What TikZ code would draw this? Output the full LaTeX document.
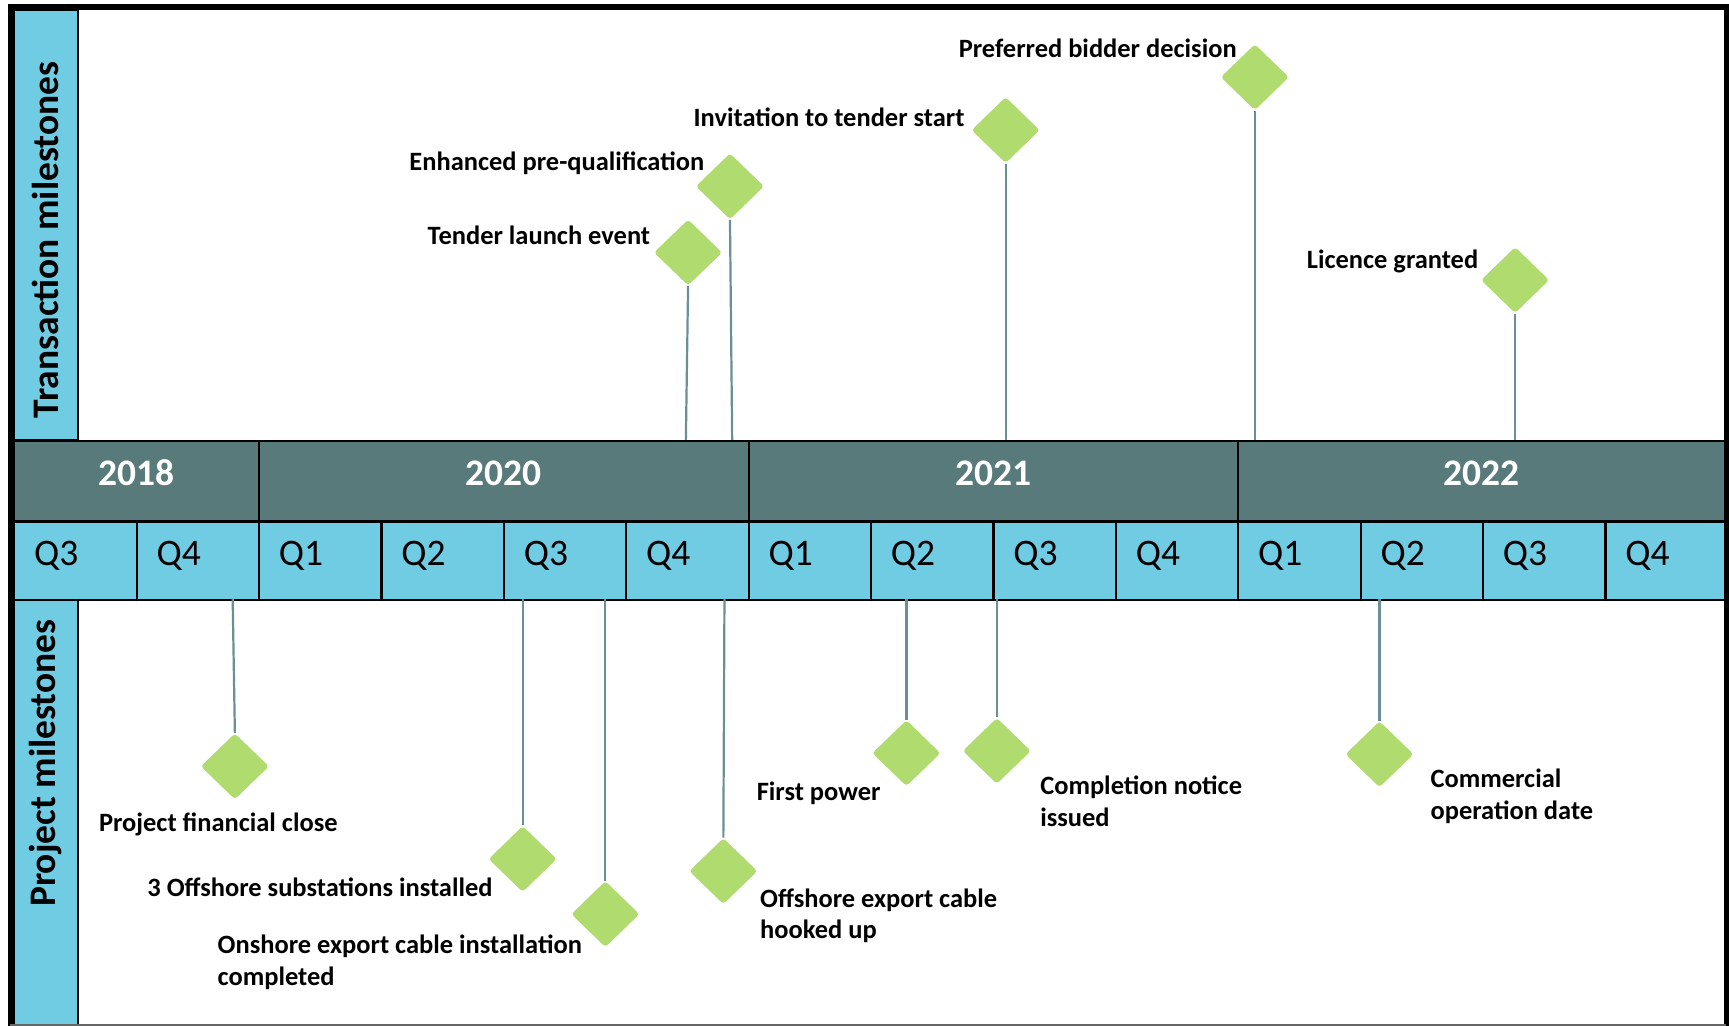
\documentclass[tikz,border=0pt]{standalone}
\usepackage{fontspec}
\setmainfont{Carlito}
\usetikzlibrary{shapes.geometric}
\definecolor{sideblue}{HTML}{70CCE3}
\definecolor{yearband}{HTML}{587A7A}
\definecolor{gem}{HTML}{B0DB6E}
\definecolor{stem}{HTML}{6A9096}
\begin{document}
\begin{tikzpicture}[x=0.5pt,y=-0.5pt,
  yearcell/.style={draw=black, line width=1pt, fill=yearband, minimum width=#1, minimum height=36.5pt, inner sep=0pt, text height=10.7pt, text depth=7pt, text=white, font=\fontsize{17}{20}\selectfont\bfseries, anchor=north west},
  qcell/.style={draw=black, line width=1pt, fill=sideblue, text width=#1, minimum height=35.5pt, inner ysep=0pt, inner xsep=9pt, text height=10.9pt, text depth=6.2pt, align=left, font=\fontsize{17}{20}\selectfont, anchor=north west},
  sidebar/.style={fill=sideblue, draw=black, line width=0.8pt, minimum width=29pt, minimum height=#1, inner sep=0pt, anchor=north west},
  sidetext/.style={rotate=90, font=\fontsize{17}{20}\selectfont\bfseries, inner sep=0pt},
  gem/.style={diamond, fill=gem, minimum width=31pt, minimum height=30pt, inner sep=0pt, rounded corners=1.5pt},
  stemline/.style={draw=stem, line width=1pt},
  lbl/.style={font=\fontsize{12}{14.5}\selectfont\bfseries, inner sep=0pt, align=left}
]
\useasboundingbox (0,0) rectangle (1568,930.4);
\fill[white] (0,0) rectangle (1568,930.4);

% side bars
\node[sidebar=195pt] (sbtop) at (12,8) {};
\node[sidebar=193.5pt] (sbbot) at (12,543) {};
\node[sidetext] (sttop) at (41,217.5) {Transaction milestones};
\node[sidetext] (stbot) at (41,692) {Project milestones};

% year band
\node[yearcell=111pt] (y18) at (12,399) {2018};
\node[yearcell=222pt] (y20) at (234,399) {2020};
\node[yearcell=222pt] (y21) at (678,399) {2021};
\node[yearcell=220.5pt] (y22) at (1122,399) {2022};

% quarter band
\node[qcell=37.5pt] (q1) at (12,472) {Q3};
\node[qcell=37.5pt] (q2) at (123,472) {Q4};
\node[qcell=37.5pt] (q3) at (234,472) {Q1};
\node[qcell=37.5pt] (q4) at (345,472) {Q2};
\node[qcell=37.5pt] (q5) at (456,472) {Q3};
\node[qcell=37.5pt] (q6) at (567,472) {Q4};
\node[qcell=37.5pt] (q7) at (678,472) {Q1};
\node[qcell=37.5pt] (q8) at (789,472) {Q2};
\node[qcell=37.5pt] (q9) at (900,472) {Q3};
\node[qcell=37.5pt] (q10) at (1011,472) {Q4};
\node[qcell=37.5pt] (q11) at (1122,472) {Q1};
\node[qcell=37.5pt] (q12) at (1233,472) {Q2};
\node[qcell=37.5pt] (q13) at (1344,472) {Q3};
\node[qcell=36pt] (q14) at (1455,472) {Q4};

% outer frame
\draw[line width=2.5pt, black, line cap=rect] (9.5,929) -- (9.5,6.5) -- (1565.5,6.5) -- (1565.5,929);
\draw[line width=0.8pt, black!60] (9.5,929.5) -- (1565.5,929.5);

% transaction milestones
\coordinate (ctl) at (622,399);
\coordinate (cep) at (664,399);
\coordinate (cit) at (912,399);
\coordinate (cpb) at (1138,399);
\coordinate (clg) at (1374,399);
\node[gem] (tl) at (624,229) {};
\node[gem] (ep) at (662,169) {};
\node[gem] (it) at (912,118) {};
\node[gem] (pb) at (1138,70) {};
\node[gem] (lg) at (1374,254) {};
\draw[stemline] (tl.south) -- (ctl);
\draw[stemline] (ep.south) -- (cep);
\draw[stemline] (it.south) -- (cit);
\draw[stemline] (pb.south) -- (cpb);
\draw[stemline] (lg.south) -- (clg);
\node[lbl, anchor=east] (tlt) at (590,213) {Tender launch event};
\node[lbl, anchor=east] (ept) at (639,148) {Enhanced pre-qualification};
\node[lbl, anchor=east] (itt) at (875,106) {Invitation to tender start};
\node[lbl, anchor=east] (pbt) at (1122,44) {Preferred bidder decision};
\node[lbl, anchor=east] (lgt) at (1341,237) {Licence granted};

% project milestones
\coordinate (cfc) at (211,543);
\coordinate (cos) at (474,543);
\coordinate (coe) at (549,543);
\coordinate (coh) at (657,543);
\coordinate (cfp) at (822,543);
\coordinate (ccn) at (904,543);
\coordinate (ccod) at (1251,543);
\node[gem] (fc) at (213,695) {};
\node[gem] (os) at (474,779) {};
\node[gem] (oe) at (549,829) {};
\node[gem] (oh) at (656,790) {};
\node[gem] (fp) at (822,683) {};
\node[gem] (cn) at (904,681) {};
\node[gem] (cod) at (1251,684) {};
\draw[stemline] (cfc) -- (fc.north);
\draw[stemline] (cos) -- (os.north);
\draw[stemline] (coe) -- (oe.north);
\draw[stemline] (coh) -- (oh.north);
\draw[stemline] (cfp) -- (fp.north);
\draw[stemline] (ccn) -- (cn.north);
\draw[stemline] (ccod) -- (cod.north);
\node[lbl] (fct) at (198,748) {Project financial close};
\node[lbl, anchor=east] (ost) at (447,805) {3 Offshore substations installed};
\node[lbl, anchor=west] (oet) at (197,872.5) {Onshore export cable installation\\completed};
\node[lbl, anchor=west] (oht) at (689,830.5) {Offshore export cable\\hooked up};
\node[lbl, anchor=east] (fpt) at (799,719) {First power};
\node[lbl, anchor=west] (cnt) at (943,727) {Completion notice\\issued};
\node[lbl, anchor=west] (codt) at (1297,722.5) {Commercial\\operation date};
\end{tikzpicture}
\end{document}
